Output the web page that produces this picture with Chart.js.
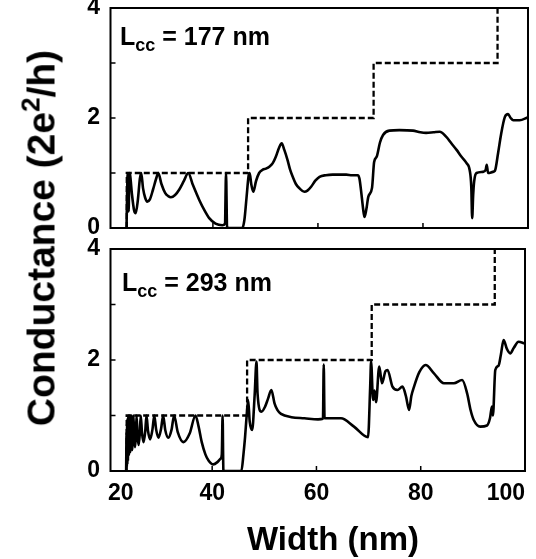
<!DOCTYPE html>
<html>
<head>
<meta charset="utf-8">
<script src="https://cdn.jsdelivr.net/npm/chart.js@4.4.1/dist/chart.umd.min.js"></script>
<style>
body{margin:0;background:#fff}
#wrap{position:relative;width:536px;height:559px;overflow:hidden;font-family:"Liberation Sans",Arial,Helvetica,sans-serif;font-weight:bold;color:#000}
canvas{position:absolute;left:0}
#c1{top:-14px}
#c2{top:227px}
.lab{position:absolute;font-size:25px;line-height:1;white-space:nowrap}
.lab sub{font-size:18px;vertical-align:-6px;line-height:0}
#ytitle{position:absolute;left:41px;top:238px;transform:translate(-50%,-50%) rotate(-90deg);font-size:39px;line-height:1;white-space:nowrap}
#ytitle sup{font-size:26px;vertical-align:15px;line-height:0}
#xtitle{position:absolute;left:333px;top:538px;transform:translate(-50%,-50%);font-size:33px;line-height:1;white-space:nowrap}
</style>
</head>
<body>
<div id="wrap">
  <canvas id="c1" width="536" height="264"></canvas>
  <canvas id="c2" width="536" height="332"></canvas>
  <div class="lab" style="left:120px;top:24px">L<sub>cc</sub> = 177 nm</div>
  <div class="lab" style="left:122px;top:270px">L<sub>cc</sub> = 293 nm</div>
  <div id="ytitle">Conductance (2e<sup>2</sup>/h)</div>
  <div id="xtitle">Width (nm)</div>
</div>
<script>
const widthTicks=[20,40,60,80,100];
const condTicks=[0,2,4];
const widthMarks=[40,60,80];
const condMarks=[1,2,3];

// dashed staircase: width where each new mode opens, and the level it reaches
const stepWidths=[23.6,46.7,70.6,94.2];
const stepLevels=[1,2,3,4];

// [width nm, conductance 2e^2/h]
const g177=[
  [23.55,0],[23.75,0.95],[23.85,1.0],[23.95,0.3],[24.1,1.0],[24.25,0.95],[24.6,0.6],[25.0,0.32],[25.3,0.27],[25.7,0.5],
  [26.1,0.9],[26.35,1.0],[26.7,0.72],[27.1,0.55],[27.5,0.48],[28.0,0.52],[28.6,0.7],[29.2,0.9],[29.6,1.0],[30.2,0.8],
  [30.9,0.64],[31.5,0.58],[32.0,0.56],[32.8,0.6],[33.6,0.7],[34.5,0.86],[35.3,1.0],[36.2,0.78],[37.4,0.51],[38.4,0.32],
  [39.3,0.18],[40.5,0.08],[41.8,0.05],[42.3,0.08],[42.5,1.0],[42.7,0.02],[43.0,0],[45.6,0],[46.0,0.15],[46.4,0.55],
  [46.8,0.95],[47.0,1.0],[47.3,0.8],[47.7,0.66],[48.2,0.85],[48.8,1.0],[49.5,1.06],[50.1,1.08],[50.8,1.12],[51.4,1.18],
  [52.0,1.3],[52.6,1.46],[53.1,1.54],[53.6,1.42],[54.2,1.24],[54.7,1.06],[55.2,0.93],[55.8,0.8],[56.5,0.72],[57.4,0.66],
  [58.0,0.68],[58.7,0.75],[59.5,0.86],[60.3,0.93],[61.5,0.96],[62.8,0.97],[64.0,0.97],[65.4,0.97],[66.5,0.96],[67.6,0.96],
  [67.9,0.9],[68.2,0.69],[68.6,0.35],[68.85,0.2],[69.2,0.33],[69.6,0.57],[70.3,0.73],[70.7,1.2],[71.2,1.3],[71.8,1.55],
  [72.4,1.69],[73.6,1.77],[75.5,1.78],[78.1,1.77],[79.5,1.74],[80.6,1.73],[82.0,1.74],[83.2,1.75],[84.4,1.66],[85.4,1.54],
  [86.4,1.42],[87.3,1.3],[88.3,1.18],[88.9,1.05],[89.2,0.75],[89.37,0.18],[89.56,0.6],[89.75,0.85],[90.2,1.0],[91.4,1.02],
  [91.95,1.06],[92.14,1.15],[92.4,1.0],[93.3,1.02],[93.7,1.04],[94.3,1.36],[94.9,1.72],[95.6,2.02],[96.2,2.07],[96.7,2.0],
  [97.2,1.96],[98.4,1.96],[99.9,2.01]
];
const g293=[
  [23.5,0],[23.58,0.7],[23.63,0.08],[23.68,0.85],[23.73,0.12],[23.78,0.95],[23.85,0.18],[23.92,1.0],[24.02,0.28],[24.15,1.0],
  [24.3,0.34],[24.48,1.0],[24.58,0.55],[24.68,0.38],[24.78,0.55],[24.9,1.0],[25.05,0.6],[25.2,0.43],[25.35,0.6],[25.5,1.0],
  [25.7,0.62],[25.9,0.47],[26.1,0.65],[26.3,1.0],[26.55,0.68],[26.85,0.52],[27.15,0.7],[27.4,1.0],[27.7,0.72],[28.1,0.57],
  [28.55,0.75],[28.9,1.0],[29.25,0.75],[29.7,0.6],[30.2,0.76],[30.6,1.0],[31.0,0.74],[31.6,0.6],[32.2,0.74],[32.7,1.0],
  [33.4,0.7],[34.5,0.52],[35.7,0.68],[36.8,1.0],[37.4,0.8],[38.0,0.52],[38.7,0.3],[39.3,0.19],[40.2,0.12],[41.0,0.16],
  [41.6,0.22],[41.85,0.3],[42.0,1.0],[42.15,0.02],[42.3,0],[45.6,0],[46.0,0.3],[46.3,0.6],[46.6,0.98],[46.9,1.28],
  [47.2,0.89],[47.67,0.74],[48.15,1.37],[48.5,1.97],[48.7,1.4],[49.45,1.07],[50.15,1.16],[50.7,1.3],[51.35,1.46],[51.96,1.22],
  [52.5,1.1],[53.2,1.03],[55.2,0.97],[57.7,0.95],[60.3,0.93],[61.25,0.94],[61.4,1.92],[61.55,0.95],[64.7,0.95],[67.2,0.8],
  [69.9,0.61],[70.3,1.5],[70.48,1.97],[70.86,1.28],[71.15,1.45],[71.43,1.24],[72.04,1.88],[72.58,1.58],[73.24,1.8],[73.63,1.82],
  [74.58,1.52],[75.53,1.46],[76.5,1.52],[77.16,1.35],[77.77,1.1],[78.2,1.35],[78.72,1.52],[79.73,1.78],[80.94,1.91],[82.54,1.76],
  [84.45,1.58],[86.36,1.58],[87.94,1.64],[88.9,1.4],[89.56,1.1],[90.17,0.92],[91.43,0.8],[92.71,0.82],[93.28,0.95],[93.66,1.16],
  [93.85,1.0],[94.3,1.82],[94.94,1.9],[95.38,2.1],[95.9,2.36],[96.53,2.2],[97.16,2.12],[97.86,2.22],[98.76,2.33],[99.9,2.3]
];

const FONT='"Liberation Sans", Arial, Helvetica, sans-serif';

function staircase(){
  const pts=[{x:stepWidths[0],y:0}];
  stepWidths.forEach((w,i)=>{
    pts.push({x:w,y:stepLevels[i]});
    if(i+1<stepWidths.length) pts.push({x:stepWidths[i+1],y:stepLevels[i]});
  });
  return pts;
}

const framePlugin={
  id:'frame',
  afterDraw(chart){
    const {ctx,chartArea:a,scales:{x,y}}=chart;
    ctx.save();
    ctx.strokeStyle='#000';
    ctx.lineWidth=2;
    ctx.strokeRect(a.left,a.top,a.right-a.left,a.bottom-a.top);
    ctx.lineWidth=1.5;
    ctx.beginPath();
    widthMarks.forEach(v=>{const p=x.getPixelForValue(v);ctx.moveTo(p,a.bottom);ctx.lineTo(p,a.bottom-5)});
    condMarks.forEach(v=>{const p=y.getPixelForValue(v);ctx.moveTo(a.left,p);ctx.lineTo(a.left+5,p)});
    ctx.stroke();
    ctx.restore();
  }
};

// y tick padding + half a label line sets the space above/below the frame (22px)
function panel(id,curve,opt){
  return new Chart(document.getElementById(id),{
    type:'line',
    data:{datasets:[
      {data:staircase(),borderColor:'#000',borderWidth:2.3,borderDash:[6,3],pointRadius:0,tension:0},
      {data:curve.map(([x,y])=>({x,y})),borderColor:'#000',borderWidth:2.6,pointRadius:0,cubicInterpolationMode:'monotone'}
    ]},
    options:{
      responsive:false,animation:false,devicePixelRatio:1,
      layout:{padding:{top:0,right:8,left:0,bottom:0}},
      plugins:{legend:{display:false},tooltip:{enabled:false}},
      scales:{
        x:{type:'linear',min:20.5,max:100,
          afterBuildTicks:s=>{s.ticks=widthTicks.map(v=>({value:v}))},
          afterFit:s=>{s.height=opt.xh},
          grid:{display:false,drawTicks:false},border:{display:false},
          ticks:{display:opt.showX,autoSkip:false,maxRotation:0,align:'inner',padding:11,color:'#000',
            font:{family:FONT,size:23,weight:'bold',lineHeight:1}}},
        y:{type:'linear',min:0,max:4,
          afterBuildTicks:s=>{s.ticks=condTicks.map(v=>({value:v}))},
          afterFit:s=>{s.width=110.5},
          grid:{display:false,drawTicks:false},border:{display:false},
          ticks:{padding:10.5,color:'#000',font:{family:FONT,size:23,weight:'bold',lineHeight:1}}}
      }
    },
    plugins:[framePlugin]
  });
}

panel('c1',g177,{xh:14,showX:false});
panel('c2',g293,{xh:88,showX:true});
</script>
</body>
</html>
